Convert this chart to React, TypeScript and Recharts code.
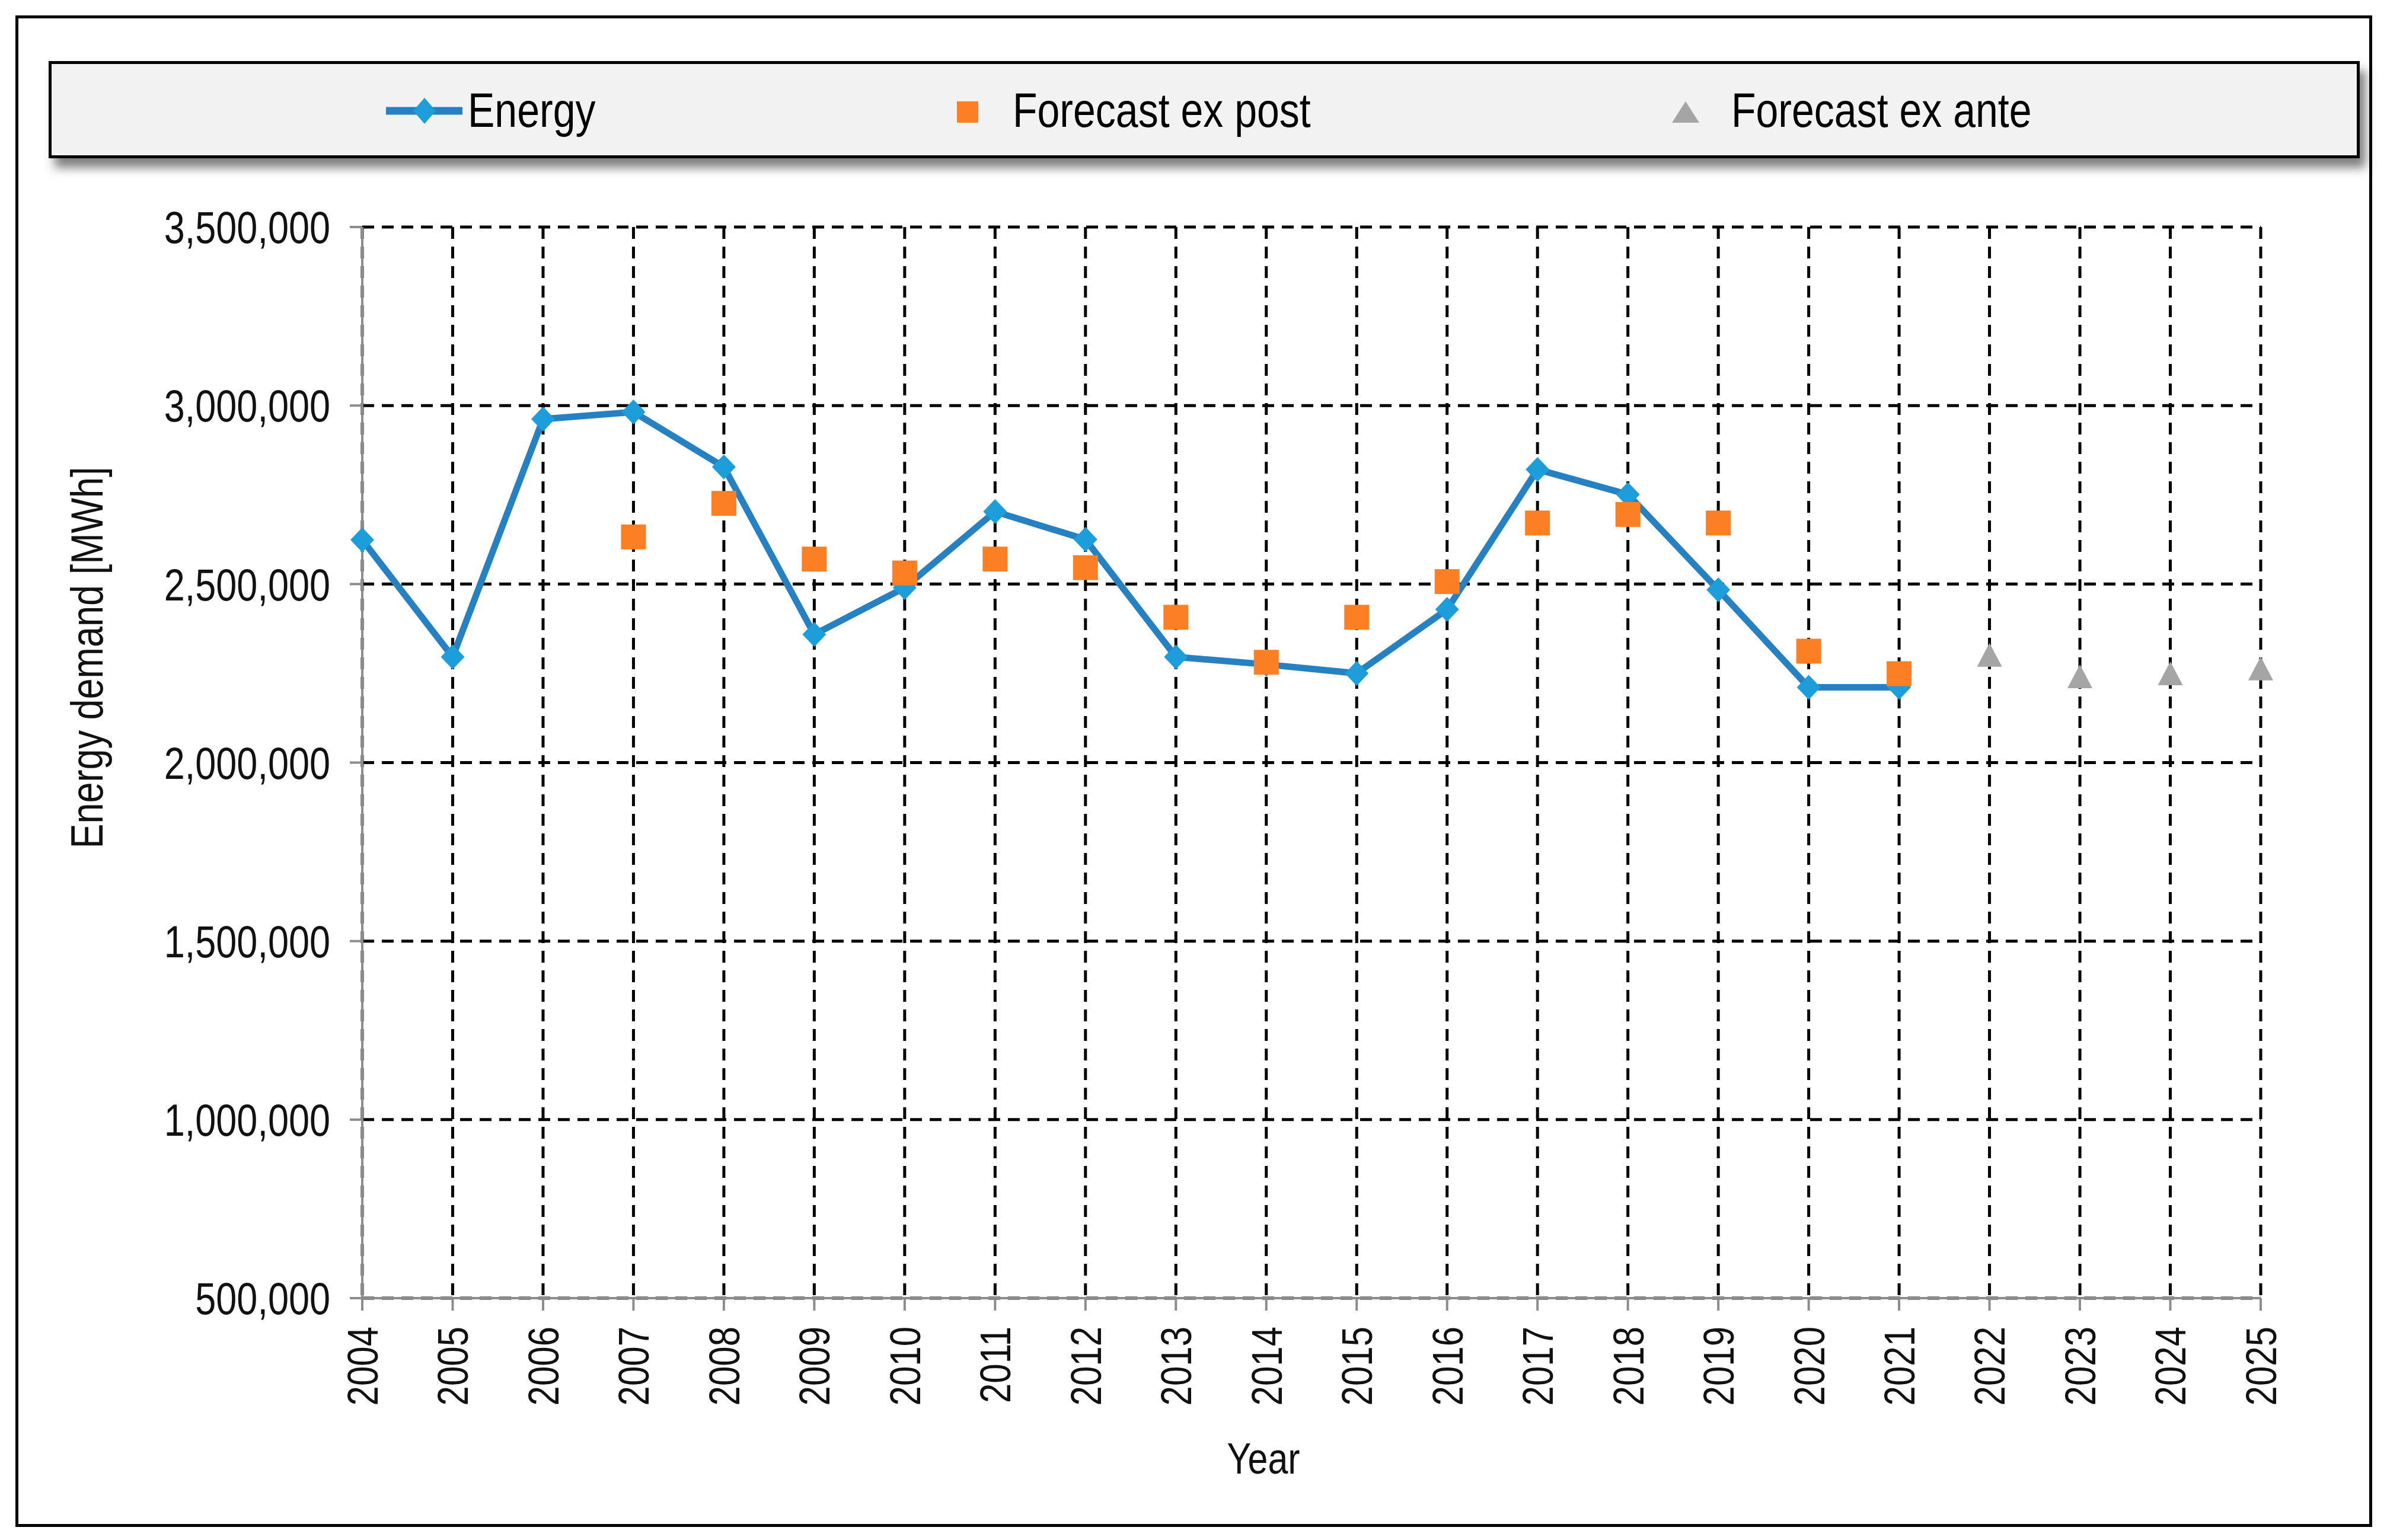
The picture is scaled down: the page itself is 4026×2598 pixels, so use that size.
import React from "react";
import { LineChart, Line, XAxis, YAxis, CartesianGrid } from "recharts";

const years = [
  2004, 2005, 2006, 2007, 2008, 2009, 2010, 2011, 2012, 2013, 2014,
  2015, 2016, 2017, 2018, 2019, 2020, 2021, 2022, 2023, 2024, 2025,
];

const energy = [
  2624000, 2296000, 2962000, 2982000, 2828000, 2359000, 2490000, 2703000,
  2625000, 2296000, 2275000, 2250000, 2429000, 2821000, 2751000, 2484000,
  2211000, 2211000, null, null, null, null,
];

const forecastExPost = [
  null, null, null, 2632000, 2726000, 2570000, 2531000, 2570000, 2546000,
  2407000, 2281000, 2407000, 2507000, 2671000, 2695000, 2671000, 2312000,
  2249000, null, null, null, null,
];

const forecastExAnte = [
  null, null, null, null, null, null, null, null, null, null, null, null,
  null, null, null, null, null, null, 2300000, 2240000, 2248000, 2262000,
];

const yTicks = [500000, 1000000, 1500000, 2000000, 2500000, 3000000, 3500000];

const data = years.map((year, i) => ({
  year,
  energy: energy[i],
  exPost: forecastExPost[i],
  exAnte: forecastExAnte[i],
}));

const FONT = "'Liberation Sans', Arial, sans-serif";
const LINE_BLUE = "#2681c2";
const MARK_BLUE = "#1e9ddb";
const ORANGE = "#fd7f24";
const GREY = "#a5a5a5";
const AXIS_GREY = "#8c8c8c";
const TEXT = "#111";
// the source font is a narrow face, so glyphs are stretched across the writing direction
const STRETCH = 1.2;

const W = 4010;
const H = 2582;

const Diamond = (props: any) => {
  const { cx, cy, value, index } = props;
  if (value == null || cy == null) return <g key={`d-${index}`} />;
  return (
    <polygon
      key={`d-${index}`}
      points={`${cx},${cy - 21} ${cx + 20},${cy} ${cx},${cy + 21} ${cx - 20},${cy}`}
      fill={MARK_BLUE}
    />
  );
};

const Square = (props: any) => {
  const { cx, cy, value, index } = props;
  if (value == null || cy == null) return <g key={`s-${index}`} />;
  return <rect key={`s-${index}`} x={cx - 21} y={cy - 21} width={42} height={42} fill={ORANGE} />;
};

const Triangle = (props: any) => {
  const { cx, cy, value, index } = props;
  if (value == null || cy == null) return <g key={`t-${index}`} />;
  return (
    <polygon
      key={`t-${index}`}
      points={`${cx},${cy - 21} ${cx + 21},${cy + 19} ${cx - 21},${cy + 19}`}
      fill={GREY}
    />
  );
};

const YTick = ({ x, y, payload }: any) => (
  <text
    transform={`translate(${x},${y}) scale(1,${STRETCH})`}
    dy="0.36em"
    textAnchor="end"
    fontFamily={FONT}
    fontSize={63}
    fill={TEXT}
  >
    {Number(payload.value).toLocaleString("en-US")}
  </text>
);

const XTick = ({ x, y, payload }: any) => (
  <g transform={`translate(${x},${y})`}>
    <text
      transform={`rotate(-90) scale(1,${STRETCH})`}
      textAnchor="end"
      dy="0.36em"
      fontFamily={FONT}
      fontSize={60}
      fill={TEXT}
    >
      {payload.value}
    </text>
  </g>
);

const YTitle = ({ viewBox }: any) => {
  const x = viewBox.x - 65;
  const y = viewBox.y + viewBox.height / 2 - 177;
  return (
    <text
      transform={`translate(${x},${y}) rotate(-90) scale(1,${STRETCH})`}
      textAnchor="middle"
      dy="0.36em"
      fontFamily={FONT}
      fontSize={63}
      fill={TEXT}
    >
      Energy demand [MWh]
    </text>
  );
};

const XTitle = ({ viewBox }: any) => (
  <text
    transform={`translate(${viewBox.x + viewBox.width / 2 - 81},${viewBox.y + 270}) scale(1,${STRETCH})`}
    dy="0.36em"
    textAnchor="middle"
    fontFamily={FONT}
    fontSize={61}
    fill={TEXT}
  >
    Year
  </text>
);

const legendText: React.CSSProperties = {
  position: "absolute",
  top: "50%",
  transform: `translateY(-50%) scaleY(${STRETCH})`,
  fontFamily: FONT,
  fontSize: 68,
  color: "#000",
  whiteSpace: "nowrap",
  lineHeight: 1,
};

const ChartLegend = () => (
  <div
    style={{
      position: "absolute",
      left: 74,
      top: 95,
      width: 3898,
      height: 164,
      boxSizing: "border-box",
      border: "5px solid #000",
      background: "#f2f2f2",
      boxShadow: "10px 16px 16px rgba(0,0,0,0.5)",
    }}
  >
    <svg style={{ position: "absolute", left: 560, top: 54 }} width={140} height={50}>
      <line x1={4} y1={25} x2={133} y2={25} stroke={LINE_BLUE} strokeWidth={13} />
      <polygon points="69,3 88,25 69,47 50,25" fill={MARK_BLUE} />
    </svg>
    <span style={{ ...legendText, left: 702 }}>Energy</span>
    <svg style={{ position: "absolute", left: 1525, top: 61 }} width={40} height={40}>
      <rect x={2} y={2} width={36} height={36} fill={ORANGE} />
    </svg>
    <span style={{ ...legendText, left: 1621 }}>Forecast ex post</span>
    <svg style={{ position: "absolute", left: 2731, top: 61 }} width={50} height={40}>
      <polygon points="25,2 48,38 2,38" fill={GREY} />
    </svg>
    <span style={{ ...legendText, left: 2833 }}>Forecast ex ante</span>
  </div>
);

export default function App() {
  return (
    <div style={{ position: "relative", width: W, height: H, background: "#fff" }}>
      <div
        style={{
          position: "absolute",
          left: 18,
          top: 18,
          width: 3975,
          height: 2550,
          boxSizing: "border-box",
          border: "5px solid #000",
        }}
      />
      <div style={{ position: "absolute", left: 0, top: 0 }}>
        <LineChart
          width={W}
          height={H}
          data={data}
          margin={{ top: 375, right: 205, bottom: 200, left: 203 }}
        >
          <CartesianGrid
            horizontal={false}
            stroke="#000"
            strokeWidth={5}
            strokeDasharray="20 13"
          />
          <CartesianGrid
            vertical={false}
            stroke="#000"
            strokeWidth={5}
            strokeDasharray="20 13"
          />
          <XAxis
            dataKey="year"
            type="number"
            domain={[2004, 2025]}
            ticks={years}
            interval={0}
            height={200}
            tickSize={21}
            tickMargin={27}
            stroke={AXIS_GREY}
            strokeWidth={4}
            tick={<XTick />}
            label={<XTitle />}
          />
          <YAxis
            type="number"
            domain={[500000, 3500000]}
            ticks={yTicks}
            interval={0}
            width={400}
            tickSize={21}
            tickMargin={33}
            stroke={AXIS_GREY}
            strokeWidth={4}
            tick={<YTick />}
            label={<YTitle />}
          />
          <Line
            dataKey="energy"
            stroke={LINE_BLUE}
            strokeWidth={11}
            dot={Diamond}
            activeDot={false}
            isAnimationActive={false}
          />
          <Line
            dataKey="exPost"
            stroke="none"
            strokeWidth={0}
            dot={Square}
            activeDot={false}
            isAnimationActive={false}
          />
          <Line
            dataKey="exAnte"
            stroke="none"
            strokeWidth={0}
            dot={Triangle}
            activeDot={false}
            isAnimationActive={false}
          />
        </LineChart>
      </div>
      <ChartLegend />
    </div>
  );
}
